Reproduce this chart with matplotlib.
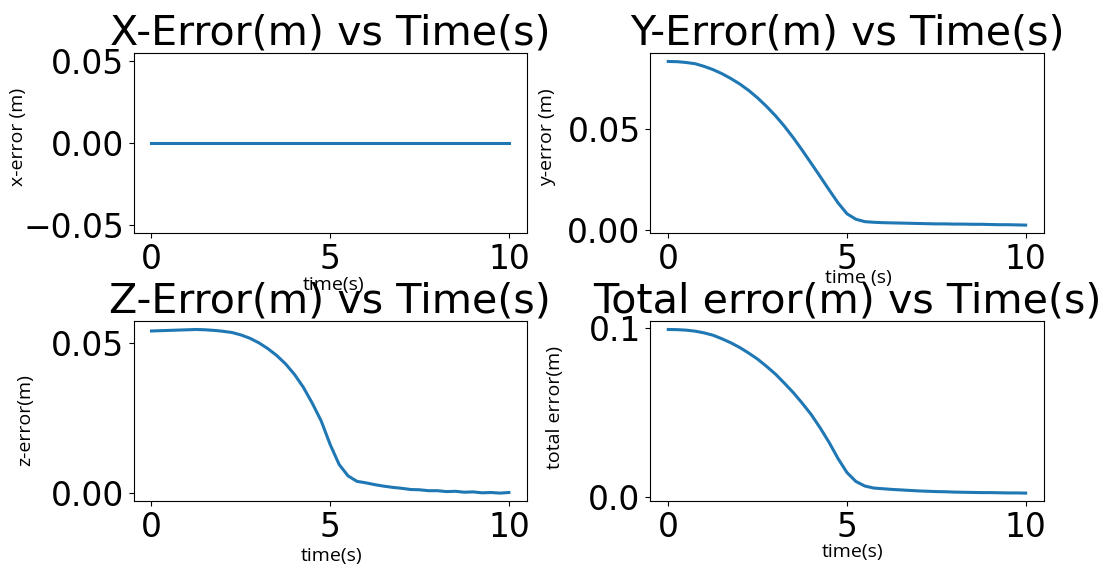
import numpy as np
import matplotlib.pyplot as plt

# sampled errors from the run (every 0.25 s)
t = [0.0, 0.25, 0.5, 0.75, 1.0, 1.25, 1.5, 1.75, 2.0, 2.25, 2.5, 2.75, 3.0, 3.25,
     3.5, 3.75, 4.0, 4.25, 4.5, 4.75, 5.0, 5.25, 5.5, 5.75, 6.0, 6.25, 6.5, 6.75,
     7.0, 7.25, 7.5, 7.75, 8.0, 8.25, 8.5, 8.75, 9.0, 9.25, 9.5, 9.75, 10.0]

x_err = [0.0] * len(t)

y_err = [0.0832, 0.0831, 0.0827, 0.0821, 0.0808, 0.0792, 0.0772, 0.0748, 0.0721,
         0.0689, 0.0652, 0.0610, 0.0564, 0.0512, 0.0455, 0.0393, 0.0329, 0.0264,
         0.0198, 0.0134, 0.0080, 0.0053, 0.0041, 0.0038, 0.0036, 0.0035, 0.0034,
         0.0033, 0.0032, 0.0031, 0.0030, 0.0030, 0.0029, 0.0029, 0.0028, 0.0028,
         0.0027, 0.0026, 0.0026, 0.0025, 0.0024]

z_err = [0.0539, 0.0540, 0.0541, 0.0542, 0.0543, 0.0544, 0.0543, 0.0541, 0.0538,
         0.0534, 0.0526, 0.0515, 0.0500, 0.0481, 0.0458, 0.0430, 0.0395, 0.0352,
         0.0299, 0.0240, 0.0162, 0.0096, 0.0058, 0.0040, 0.0035, 0.0029, 0.0024,
         0.0020, 0.0017, 0.0013, 0.0012, 0.0009, 0.0009, 0.0006, 0.0007, 0.0004,
         0.0005, 0.0002, 0.0003, 0.0001, 0.0003]

total_err = [0.0992, 0.0991, 0.0988, 0.0982, 0.0972, 0.0958, 0.0937, 0.0913, 0.0885,
             0.0852, 0.0816, 0.0773, 0.0727, 0.0673, 0.0617, 0.0554, 0.0487, 0.0408,
             0.0322, 0.0226, 0.0143, 0.0090, 0.0063, 0.0051, 0.0047, 0.0043, 0.0040,
             0.0037, 0.0034, 0.0032, 0.0030, 0.0029, 0.0027, 0.0026, 0.0025, 0.0024,
             0.0024, 0.0023, 0.0022, 0.0022, 0.0021]

titles = ['X-Error(m) vs Time(s)', 'Y-Error(m) vs Time(s)',
          'Z-Error(m) vs Time(s)', 'Total error(m) vs Time(s)']
xlabels = ['time(s)', 'time (s)', 'time(s)', 'time(s)']
ylabels = ['x-error (m)', 'y-error (m)', 'z-error(m)', 'total error(m)']
yticks = [[-0.05, 0.0, 0.05], [0.0, 0.05], [0.0, 0.05], [0.0, 0.1]]

# label positions in axes coords
xlab_pos = [(0.508, -0.24), (0.529, -0.20), (0.503, -0.253), (0.513, -0.232)]
ylab_pos = [(-0.271, 0.536), (-0.239, 0.533), (-0.254, 0.453), (-0.221, 0.519)]

lab_font = {'family': 'Open Sans', 'size': 14}

fig, axs = plt.subplots(2, 2, figsize=(10.98, 5.67), dpi=100)
fig.subplots_adjust(left=0.1217, right=0.9504, top=0.906, bottom=0.1159,
                    wspace=0.3145, hspace=0.489)

data = [x_err, y_err, z_err, total_err]
for i, ax in enumerate(axs.flat):
    ax.plot(t, data[i], color='tab:blue', lw=2.2)
    ax.set_title(titles[i], fontsize=29.7)
    ax.set_xticks([0, 5, 10])
    ax.set_yticks(yticks[i])
    ax.tick_params(labelsize=23.8)
    ax.set_xlabel(xlabels[i], fontdict=lab_font)
    ax.set_ylabel(ylabels[i], fontdict=lab_font)
    ax.xaxis.set_label_coords(*xlab_pos[i])
    ax.yaxis.set_label_coords(*ylab_pos[i])

plt.savefig('out.png', dpi=100)
